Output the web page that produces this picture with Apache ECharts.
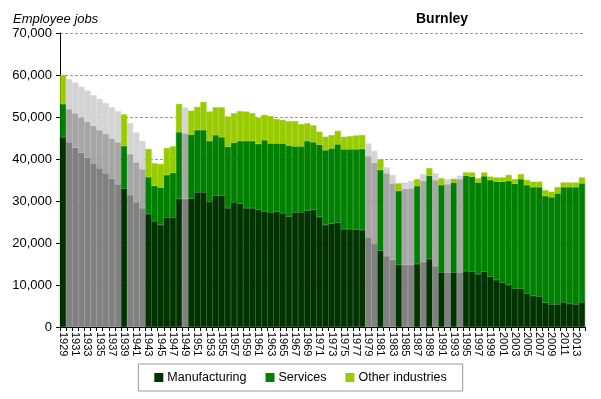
<!DOCTYPE html>
<html>
<head>
<meta charset="utf-8">
<script src="https://cdn.jsdelivr.net/npm/echarts@6/dist/echarts.min.js"></script>
<style>
html,body{margin:0;padding:0;background:#fff;}
#chart{width:601px;height:399px;}
</style>
</head>
<body>
<div id="chart"></div>
<script>
var years = ["1929","1930","1931","1932","1933","1934","1935","1936","1937","1938","1939","1940","1941","1942","1943","1944","1945","1946","1947","1948","1949","1950","1951","1952","1953","1954","1955","1956","1957","1958","1959","1960","1961","1962","1963","1964","1965","1966","1967","1968","1969","1970","1971","1972","1973","1974","1975","1976","1977","1978","1979","1980","1981","1982","1983","1984","1985","1986","1987","1988","1989","1990","1991","1992","1993","1994","1995","1996","1997","1998","1999","2000","2001","2002","2003","2004","2005","2006","2007","2008","2009","2010","2011","2012","2013","2014"];

var manufacturing = [45200,44000,42700,41500,40300,39000,37800,36600,35300,34000,32900,31400,29700,28300,26900,25200,24300,26100,26100,30500,30500,30600,32100,32100,29800,31300,31300,28300,29700,29400,28300,28300,27900,27500,27300,27500,27100,26300,27300,27300,27700,27900,26200,24300,24600,24900,23300,23300,23200,23100,21400,19800,18200,16900,16000,14800,14800,14800,15000,15500,16200,14500,13000,13000,13000,13000,13300,13200,12600,13200,12000,11200,10600,10000,9200,9100,8000,7400,7300,5800,5400,5400,5900,5500,5400,5900];

var services = [7900,7900,8200,8400,8600,8900,9100,9400,9600,10000,10200,9800,9500,9300,8800,8400,8900,10100,10600,15900,15600,15200,14800,14800,14500,14400,13900,14600,14200,14900,16000,16000,15700,17000,16400,16200,16600,16900,15700,15700,16600,16100,17200,17800,17900,18600,19000,19000,19100,19300,19300,19300,19200,19700,18200,17600,18100,18200,18600,19300,19800,20500,20800,21000,21400,22200,22700,22600,21800,22700,23000,23400,24000,24800,24900,26100,25800,25900,26000,25400,25500,26400,27400,27800,27900,28300];

var otherIndustries = [6900,7100,7300,7300,7400,7300,7400,7300,7400,7400,7500,7300,7100,6700,6700,5400,5600,6400,6300,6700,6200,5700,5500,6700,7000,6600,7100,7200,7000,7100,7000,6600,6200,6000,6500,5800,5600,5800,6000,5300,4200,4000,3100,3200,3200,3200,3000,3100,3300,3300,3000,2800,2500,1400,2000,1800,1500,1800,1600,1600,1800,1600,1600,1200,900,800,800,1000,1000,900,800,1000,1000,1400,1100,1200,1200,1300,1300,1400,1300,1500,1100,1100,1100,1400];

// years without survey data (shown in grey in the reference)
var estimatedYears = ["1930","1931","1932","1933","1934","1935","1936","1937","1938","1940","1941","1942","1949","1979","1980","1982","1983","1985","1986","1988","1990","1992","1994"];

var yTicks = [0,10000,20000,30000,40000,50000,60000,70000];

var seriesNames = ["Manufacturing","Services","Other industries"];
var seriesColors = ["#003300","#008000","#99cc00"];
var greyColors = ["#808080","#a6a6a6","#d4d4d4"];
var seriesValues = [manufacturing, services, otherIndustries];

function buildData(vals, k) {
  return vals.map(function (v, i) {
    if (estimatedYears.indexOf(years[i]) >= 0) {
      return { value: v, itemStyle: { color: greyColors[k], borderColor: greyColors[k] } };
    }
    return v;
  });
}

function fmt(v) {
  return String(v).replace(/\B(?=(\d{3})+(?!\d))/g, ",");
}

var chart = echarts.init(document.getElementById('chart'), null, { renderer: 'canvas' });
var font = "'Liberation Sans', Arial, sans-serif";

chart.setOption({
  animation: false,
  backgroundColor: '#ffffff',
  textStyle: { fontFamily: font },
  title: [
    { text: 'Employee jobs', left: 8, top: 8,
      textStyle: { fontSize: 13, fontStyle: 'italic', fontWeight: 'normal', color: '#000', fontFamily: font } },
    { text: 'Burnley', left: 411, top: 7,
      textStyle: { fontSize: 14, fontWeight: 'bold', color: '#000', fontFamily: font } }
  ],
  legend: {
    data: seriesNames,
    left: 'center',
    top: 364,
    padding: [7, 16, 7, 16],
    itemGap: 19,
    itemWidth: 7,
    itemHeight: 7,
    icon: 'rect',
    borderColor: '#999999',
    borderWidth: 1,
    textStyle: { fontSize: 12.5, color: '#000', fontFamily: font }
  },
  grid: { left: 60, right: 16, top: 33, bottom: 72, containLabel: false },
  xAxis: {
    type: 'category',
    data: years,
    boundaryGap: true,
    axisLine: { lineStyle: { color: '#000', width: 1 } },
    axisTick: { show: true, interval: 0, length: 4, lineStyle: { color: '#000' } },
    axisLabel: { interval: 1, rotate: -90, fontSize: 11, color: '#000', margin: 5, fontFamily: font },
    splitLine: { show: false }
  },
  yAxis: {
    type: 'value',
    min: yTicks[0],
    max: yTicks[yTicks.length - 1],
    interval: 10000,
    axisLine: { show: true, lineStyle: { color: '#000', width: 1 } },
    axisTick: { show: true, length: 4, lineStyle: { color: '#000' } },
    axisLabel: { fontSize: 13, color: '#000', margin: 8, fontFamily: font, formatter: function (v) { return fmt(v); } },
    splitLine: { show: true, lineStyle: { color: '#999999', type: [3, 2], width: 1 } }
  },
  series: seriesNames.map(function (name, k) {
    return {
      name: name,
      type: 'bar',
      stack: 'total',
      barCategoryGap: '0%',
      barGap: '0%',
      itemStyle: { color: seriesColors[k], borderColor: seriesColors[k], borderWidth: 0.5 },
      emphasis: { disabled: true },
      data: buildData(seriesValues[k], k)
    };
  })
});
</script>
</body>
</html>
